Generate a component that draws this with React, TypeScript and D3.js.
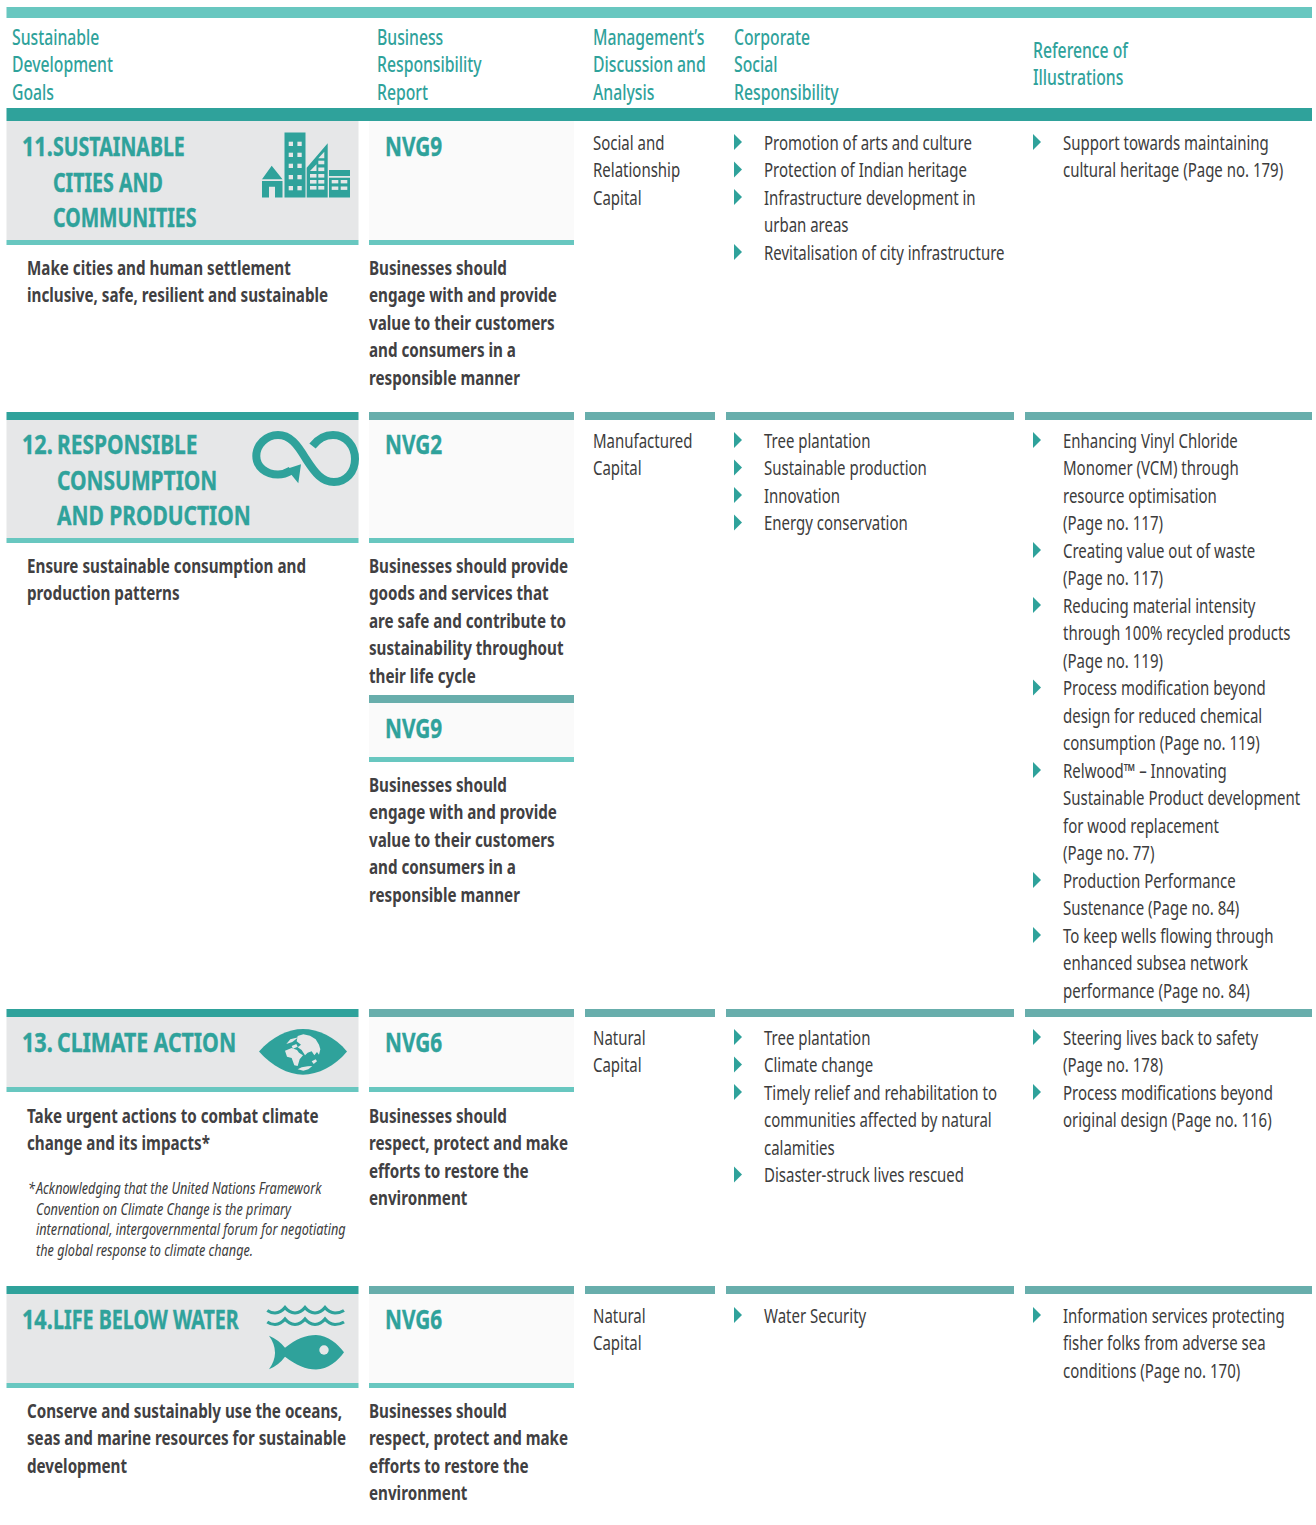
import React from "react";
import * as d3 from "d3";

const W = 1316, H = 1525;
const TEAL = "#2fa29b", LIGHT = "#68c7c0", MID = "#68aeac", PANEL = "#e6e7e8", SOFT = "#fafafa", BODY = "#3c3c3c", BOLD = "#414042";
const FONT = "'Noto Sans', sans-serif";
const STEP = 27.5;

const columns = ["goal", "nvg", "mda", "csr", "ref"];
const colStarts = [6.5, 369, 585, 726, 1025];
const colEnds = [358.5, 574, 715, 1014, 1312];
const textStarts = [12, 377, 593, 734, 1033];

const headerGoal = ["Sustainable", "Development", "Goals"];
const headerNvg = ["Business", "Responsibility", "Report"];
const headerMda = ["Management’s", "Discussion and", "Analysis"];
const headerCsr = ["Corporate", "Social", "Responsibility"];
const headerRef = ["Reference of", "Illustrations"];

const goal11 = ["11.", "SUSTAINABLE", "CITIES AND", "COMMUNITIES"];
const desc11 = ["Make cities and human settlement", "inclusive, safe, resilient and sustainable"];
const nvg11 = ["Businesses should", "engage with and provide", "value to their customers", "and consumers in a", "responsible manner"];
const mda11 = ["Social and", "Relationship", "Capital"];
const csr11 = [["Promotion of arts and culture"], ["Protection of Indian heritage"], ["Infrastructure development in", "urban areas"], ["Revitalisation of city infrastructure"]];
const ref11 = [["Support towards maintaining", "cultural heritage (Page no. 179)"]];

const goal12 = ["12.", "RESPONSIBLE", "CONSUMPTION", "AND PRODUCTION"];
const desc12 = ["Ensure sustainable consumption and", "production patterns"];
const nvg12a = ["Businesses should provide", "goods and services that", "are safe and contribute to", "sustainability throughout", "their life cycle"];
const nvg12b = ["Businesses should", "engage with and provide", "value to their customers", "and consumers in a", "responsible manner"];
const mda12 = ["Manufactured", "Capital"];
const csr12 = [["Tree plantation"], ["Sustainable production"], ["Innovation"], ["Energy conservation"]];
const ref12 = [
  ["Enhancing Vinyl Chloride", "Monomer (VCM) through", "resource optimisation", "(Page no. 117)"],
  ["Creating value out of waste", "(Page no. 117)"],
  ["Reducing material intensity", "through 100% recycled products", "(Page no. 119)"],
  ["Process modification beyond", "design for reduced chemical", "consumption (Page no. 119)"],
  ["Relwood™ – Innovating", "Sustainable Product development", "for wood replacement", "(Page no. 77)"],
  ["Production Performance", "Sustenance (Page no. 84)"],
  ["To keep wells flowing through", "enhanced subsea network", "performance (Page no. 84)"],
];

const goal13 = ["13.", "CLIMATE ACTION"];
const desc13 = ["Take urgent actions to combat climate", "change and its impacts*"];
const note13 = ["Acknowledging that the United Nations Framework", "Convention on Climate Change is the primary", "international, intergovernmental forum for negotiating", "the global response to climate change."];
const nvg13 = ["Businesses should", "respect, protect and make", "efforts to restore the", "environment"];
const mda13 = ["Natural", "Capital"];
const csr13 = [["Tree plantation"], ["Climate change"], ["Timely relief and rehabilitation to", "communities affected by natural", "calamities"], ["Disaster-struck lives rescued"]];
const ref13 = [["Steering lives back to safety", "(Page no. 178)"], ["Process modifications beyond", "original design (Page no. 116)"]];

const goal14 = ["14.", "LIFE BELOW WATER"];
const desc14 = ["Conserve and sustainably use the oceans,", "seas and marine resources for sustainable", "development"];
const nvg14 = ["Businesses should", "respect, protect and make", "efforts to restore the", "environment"];
const mda14 = ["Natural", "Capital"];
const csr14 = [["Water Security"]];
const ref14 = [["Information services protecting", "fisher folks from adverse sea", "conditions (Page no. 170)"]];

const colX = d3.scaleOrdinal<string, number>().domain(columns).range(colStarts);
const colX2 = d3.scaleOrdinal<string, number>().domain(columns).range(colEnds);
const textX = d3.scaleOrdinal<string, number>().domain(columns).range(textStarts);
const lineY = d3.scaleLinear().domain([0, 1]).range([0, STEP]);

type St = { size: number; sx: number; weight: number; color: string; italic?: boolean; stroke?: number };
const sHead: St = { size: 21, sx: 0.75, weight: 500, color: TEAL };
const sBody: St = { size: 20, sx: 0.75, weight: 400, color: BODY };
const sBold: St = { size: 20, sx: 0.76, weight: 700, color: BOLD };
const sNote: St = { size: 16, sx: 0.793, weight: 400, color: BODY, italic: true };
const sTitle: St = { size: 27, sx: 0.8, weight: 700, color: TEAL, stroke: 0.4 };

function T({ x, y, s, children }: { x: number; y: number; s: St; children: string }) {
  return (
    <text transform={`translate(${x},${y}) scale(${s.sx},1)`} fontFamily={FONT} fontSize={s.size} fontWeight={s.weight}
      fill={s.color} stroke={s.stroke ? s.color : "none"} strokeWidth={s.stroke || 0} fontStyle={s.italic ? "italic" : "normal"} xmlSpace="preserve">{children}</text>
  );
}
function Lines({ x, y, lines, s }: { x: number; y: number; lines: string[]; s: St }) {
  return <>{lines.map((l, i) => <T key={i} x={x} y={y - 0.2 + lineY(i)} s={s}>{l}</T>)}</>;
}
function Bullets({ x, y, items }: { x: number; y: number; items: string[][] }) {
  let n = 0;
  return (
    <>
      {items.map((it, k) => {
        const y0 = y + lineY(n);
        n += it.length;
        return (
          <g key={k}>
            <path d={`M${x},${y0 - 16}L${x + 8},${y0 - 8}L${x},${y0}Z`} fill={TEAL} />
            <Lines x={x + 30} y={y0} lines={it} s={sBody} />
          </g>
        );
      })}
    </>
  );
}
function Bar({ c, y, h, fill }: { c: string; y: number; h: number; fill: string }) {
  return <rect x={colX(c)} y={y} width={colX2(c) - colX(c)} height={h} fill={fill} />;
}
function Title({ y, lines, indent, sx }: { y: number; lines: string[]; indent: number; sx: number }) {
  return (
    <>
      <T x={22} y={y} s={sTitle}>{lines[0]}</T>
      {lines.slice(1).map((l, i) => <T key={i} x={indent} y={y + i * 35.6} s={{ ...sTitle, sx }}>{l}</T>)}
    </>
  );
}
function Row({ top, panelEnd, title, indent, titleSx, nvgLabel, desc, nvg, mda, csr, ref, descY, titleY, textY }: any) {
  return (
    <g>
      <Bar c="goal" y={top} h={8} fill={TEAL} />
      {["nvg", "mda", "csr", "ref"].map((c) => <Bar key={c} c={c} y={top} h={8} fill={MID} />)}
      <Bar c="goal" y={top + 8} h={panelEnd - top - 8} fill={PANEL} />
      <Bar c="nvg" y={top + 8} h={panelEnd - top - 8} fill={SOFT} />
      <Bar c="goal" y={panelEnd} h={5} fill={LIGHT} />
      <Bar c="nvg" y={panelEnd} h={5} fill={LIGHT} />
      <Title y={titleY} lines={title} indent={indent} sx={titleSx} />
      <T x={385} y={titleY} s={{ ...sTitle, sx: 0.77 }}>{nvgLabel}</T>
      <Lines x={27} y={descY} lines={desc} s={sBold} />
      <Lines x={369} y={descY} lines={nvg} s={sBold} />
      <Lines x={textX("mda")} y={textY} lines={mda} s={sBody} />
      <Bullets x={textX("csr")} y={textY} items={csr} />
      <Bullets x={textX("ref")} y={textY} items={ref} />
    </g>
  );
}

function cityIcon() {
  const p = d3.path();
  p.moveTo(271.7, 165.7); p.lineTo(282.5, 179.3); p.lineTo(262, 179.3); p.closePath();
  p.moveTo(262, 181); p.lineTo(282.5, 181); p.lineTo(282.5, 197.5); p.lineTo(275, 197.5); p.lineTo(275, 186.7); p.lineTo(269, 186.7); p.lineTo(269, 197.5); p.lineTo(262, 197.5); p.closePath();
  p.rect(284.5, 132.5, 21, 65);
  p.moveTo(306.7, 197.5); p.lineTo(306.7, 167.7); p.lineTo(327.7, 143.3); p.lineTo(327.7, 197.5); p.closePath();
  p.rect(329, 170, 21, 6);
  p.rect(329, 177.7, 21, 19.8);
  return p.toString();
}
const towerWindowCols = [288.7, 297.4];
const towerWindowRows = [141.7, 152.7, 163.7, 175, 186];
const wedgeRightRows = [160.7, 167.5, 174, 180, 186];
const wedgeLeftRows = [174, 180, 186];
const blockCols = [331.7, 340.7];
const blockRows = [180, 186.5];

function infinityPath() {
  const p = d3.path();
  p.moveTo(312.5, 446);
  p.bezierCurveTo(318, 439, 325, 435, 333, 435);
  p.bezierCurveTo(346, 435, 355, 446, 355, 459);
  p.bezierCurveTo(355, 472, 346, 482, 334, 482);
  p.bezierCurveTo(322, 482, 315, 473, 306, 459);
  p.bezierCurveTo(297, 444, 290, 435, 278, 435);
  p.bezierCurveTo(266, 435, 256.3, 445, 256.3, 456);
  p.bezierCurveTo(256.3, 467, 266, 474.5, 278, 474.5);
  p.bezierCurveTo(283, 474.5, 287, 473, 291, 470.5);
  return p.toString();
}
function eyePath() {
  const p = d3.path();
  p.moveTo(259, 1051.5);
  p.bezierCurveTo(272, 1037, 288, 1029, 303, 1029);
  p.bezierCurveTo(318, 1029, 335, 1037, 347, 1051.5);
  p.bezierCurveTo(335, 1066, 318, 1074.7, 303, 1074.7);
  p.bezierCurveTo(288, 1074.7, 272, 1066, 259, 1051.5);
  return p.toString();
}
// land shapes in the icon's own 3x grid, mapped to the page by scales
const eyeU = d3.scaleLinear().domain([0, 300]).range([255, 355]);
const eyeV = d3.scaleLinear().domain([0, 180]).range([1022, 1082]);
const landEurasia: [number, number][] = [[128, 42], [145, 37], [165, 41], [182, 52], [192, 68], [196, 82], [192, 98], [186, 90], [178, 100], [170, 88], [158, 92], [150, 100], [140, 84], [128, 76], [138, 68], [125, 58]];
const landAfrica: [number, number][] = [[90, 86], [110, 78], [126, 84], [132, 92], [144, 100], [134, 112], [128, 132], [118, 130], [110, 108], [96, 104]];
const landLeafA: [number, number][] = [[94, 66], [106, 52], [130, 46], [112, 60]];
const landLeafB: [number, number][] = [[110, 72], [124, 66], [128, 74], [114, 80]];
const landSouth: [number, number][] = [[128, 142], [140, 136], [158, 133], [172, 132], [160, 142], [145, 146]];
const landIsland: [number, number][] = [[170, 118], [182, 112], [186, 118], [176, 126]];
const lands = [landEurasia, landAfrica, landLeafA, landLeafB, landSouth, landIsland];
const landLine = d3.line<[number, number]>().x((d) => eyeU(d[0])).y((d) => eyeV(d[1])).curve(d3.curveLinearClosed);

function wavePath(y: number) {
  const p = d3.path();
  p.moveTo(267.3, y + 3);
  p.quadraticCurveTo(271, y + 5.5, 275, y + 5.5);
  [0, 1, 2].forEach((i) => {
    const x = 275 + i * 20;
    p.quadraticCurveTo(x + 6, y + 5, x + 10, y);
    p.quadraticCurveTo(x + 14, y + 5, x + 20, y + 5.5);
  });
  p.quadraticCurveTo(340, y + 5.5, 344, y + 3);
  return p.toString();
}
function fishPath() {
  const p = d3.path();
  p.moveTo(269, 1335.7);
  p.quadraticCurveTo(279, 1340, 285, 1347.7);
  p.bezierCurveTo(296, 1339, 306, 1335, 316, 1335);
  p.bezierCurveTo(328, 1335.5, 338, 1344, 344, 1352.3);
  p.bezierCurveTo(338, 1361, 328, 1369.3, 316, 1369.5);
  p.bezierCurveTo(306, 1369.5, 296, 1365, 285, 1356.7);
  p.quadraticCurveTo(279, 1365, 269, 1369.3);
  p.quadraticCurveTo(281, 1352.5, 269, 1335.7);
  return p.toString();
}

export default function App() {
  return (
    <svg width={W} height={H} viewBox={`0 0 ${W} ${H}`} style={{ position: "absolute", left: 0, top: 0, background: "#fff" }}>
      <rect x={6.5} y={7} width={1305.5} height={11} fill={LIGHT} />
      <rect x={6.5} y={108} width={1305.5} height={13} fill={TEAL} />
      <Lines x={textX("goal")} y={45} lines={headerGoal} s={sHead} />
      <Lines x={textX("nvg")} y={45} lines={headerNvg} s={sHead} />
      <Lines x={textX("mda")} y={45} lines={headerMda} s={sHead} />
      <Lines x={textX("csr")} y={45} lines={headerCsr} s={sHead} />
      <Lines x={textX("ref")} y={58} lines={headerRef} s={sHead} />

      {/* 11: the header band replaces the top rule */}
      <Bar c="goal" y={121} h={119} fill={PANEL} />
      <Bar c="nvg" y={121} h={119} fill={SOFT} />
      <Bar c="goal" y={240} h={5} fill={LIGHT} />
      <Bar c="nvg" y={240} h={5} fill={LIGHT} />
      <Title y={156} lines={goal11} indent={53} sx={0.725} />
      <T x={385} y={156} s={{ ...sTitle, sx: 0.77 }}>NVG9</T>
      <Lines x={27} y={275} lines={desc11} s={sBold} />
      <Lines x={369} y={275} lines={nvg11} s={sBold} />
      <Lines x={textX("mda")} y={150} lines={mda11} s={sBody} />
      <Bullets x={textX("csr")} y={150} items={csr11} />
      <Bullets x={textX("ref")} y={150} items={ref11} />
      <path d={cityIcon()} fill={TEAL} />
      {towerWindowRows.flatMap((y) => towerWindowCols.map((x) => <rect key={`${x}-${y}`} x={x} y={y} width={4.3} height={4.3} fill={PANEL} />))}
      {wedgeRightRows.map((y) => <rect key={y} x={318.3} y={y} width={6} height={3.6} fill={PANEL} />)}
      {wedgeLeftRows.map((y) => <rect key={y} x={310} y={y} width={6.5} height={3.6} fill={PANEL} />)}
      <path d="M318.3,158.3 L324.3,158.3 L324.3,151.7 Z M310,171 L316.5,171 L316.5,164.3 Z" fill={PANEL} />
      {blockRows.flatMap((y) => blockCols.map((x) => <rect key={`${x}-${y}`} x={x} y={y} width={6.6} height={3.4} fill={PANEL} />))}

      <Row top={412} panelEnd={538} title={goal12} indent={57} titleSx={0.775} nvgLabel="NVG2" desc={desc12} nvg={nvg12a} mda={mda12} csr={csr12} ref={ref12} descY={573} titleY={454} textY={448} />
      <path d={infinityPath()} fill="none" stroke={TEAL} strokeWidth={8} />
      <path d="M301,464.3 L283.3,470 L290,473 L298.3,483.3 Z" fill={TEAL} />
      <rect x={369} y={695} width={205} height={8} fill={MID} />
      <rect x={369} y={703} width={205} height={54} fill={SOFT} />
      <rect x={369} y={757} width={205} height={5} fill={LIGHT} />
      <T x={385} y={738} s={{ ...sTitle, sx: 0.77 }}>NVG9</T>
      <Lines x={369} y={792} lines={nvg12b} s={sBold} />

      <Row top={1009} panelEnd={1087} title={goal13} indent={57} titleSx={0.787} nvgLabel="NVG6" desc={desc13} nvg={nvg13} mda={mda13} csr={csr13} ref={ref13} descY={1123} titleY={1052} textY={1045} />
      <path d={eyePath()} fill={TEAL} />
      {lands.map((d, i) => <path key={i} d={landLine(d) as string} fill={PANEL} />)}
      <T x={28} y={1194} s={sNote}>*</T>
      {note13.map((l, i) => <T key={i} x={36} y={1194 + i * 20.7} s={sNote}>{l}</T>)}

      <Row top={1286} panelEnd={1383} title={goal14} indent={53} titleSx={0.73} nvgLabel="NVG6" desc={desc14} nvg={nvg14} mda={mda14} csr={csr14} ref={ref14} descY={1418} titleY={1329} textY={1323} />
      {[1307.5, 1319].map((y) => <path key={y} d={wavePath(y)} fill="none" stroke={TEAL} strokeWidth={3.2} />)}
      <path d={fishPath()} fill={TEAL} />
      <circle cx={324} cy={1350} r={4.7} fill={PANEL} />
    </svg>
  );
}
